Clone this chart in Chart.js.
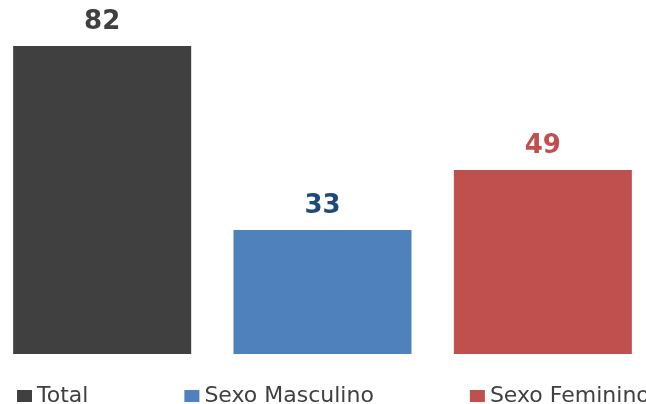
<!DOCTYPE html>
<html>
<head>
<meta charset="utf-8">
<script src="https://cdn.jsdelivr.net/npm/chart.js@4"></script>
<style>
  body { margin: 0; background: #fff; overflow: hidden; }
  canvas { display: block; margin-left: -8px; }
</style>
</head>
<body>
<canvas id="grafico" width="662" height="404"></canvas>
<script>
const categorias = ["Total", "Sexo Masculino", "Sexo Feminino"];
const valores = [82, 33, 49];
const coresBarras = ["#404040", "#4F81BD", "#C0504D"];
const coresRotulos = ["#404040", "#1F497D", "#C0504D"];

// rótulos de valor acima das barras
const rotulosPlugin = {
  id: "rotulos",
  afterDatasetsDraw(chart) {
    const ctx = chart.ctx;
    const meta = chart.getDatasetMeta(0);
    ctx.save();
    ctx.font = "bold 26px 'DejaVu Sans'";
    ctx.textAlign = "center";
    ctx.textBaseline = "alphabetic";
    meta.data.forEach((bar, i) => {
      ctx.fillStyle = coresRotulos[i];
      ctx.fillText(valores[i], bar.x, bar.y - 17);
    });
    ctx.restore();
  },
};

// legenda desenhada à mão (espaçamento largo não cabe na legenda padrão)
const legendaPlugin = {
  id: "legenda",
  afterDraw(chart) {
    const ctx = chart.ctx;
    ctx.save();
    ctx.font = "22px 'DejaVu Sans'";
    ctx.textBaseline = "alphabetic";
    let x = 25; // canvas deslocado 8px para a esquerda
    const base = 402;
    categorias.forEach((cat, i) => {
      ctx.fillStyle = coresBarras[i];
      ctx.fillRect(x, base - 12, 15, 12);
      ctx.fillStyle = "#404040";
      ctx.fillText(cat, x + 20, base);
      x += 20 + ctx.measureText(cat).width + 96;
    });
    ctx.restore();
  },
};

new Chart(document.getElementById("grafico"), {
  type: "bar",
  data: {
    labels: categorias,
    datasets: [
      {
        data: valores,
        backgroundColor: coresBarras,
        borderWidth: 0,
        barPercentage: 0.808,
        categoryPercentage: 1,
      },
    ],
  },
  options: {
    responsive: false,
    animation: false,
    layout: {
      padding: { top: 16, bottom: 50, left: 0, right: 1 },
    },
    scales: {
      x: { display: false },
      y: { display: false, min: 0, max: 90 },
    },
    plugins: {
      legend: { display: false },
      tooltip: { enabled: false },
    },
  },
  plugins: [rotulosPlugin, legendaPlugin],
});
</script>
</body>
</html>
